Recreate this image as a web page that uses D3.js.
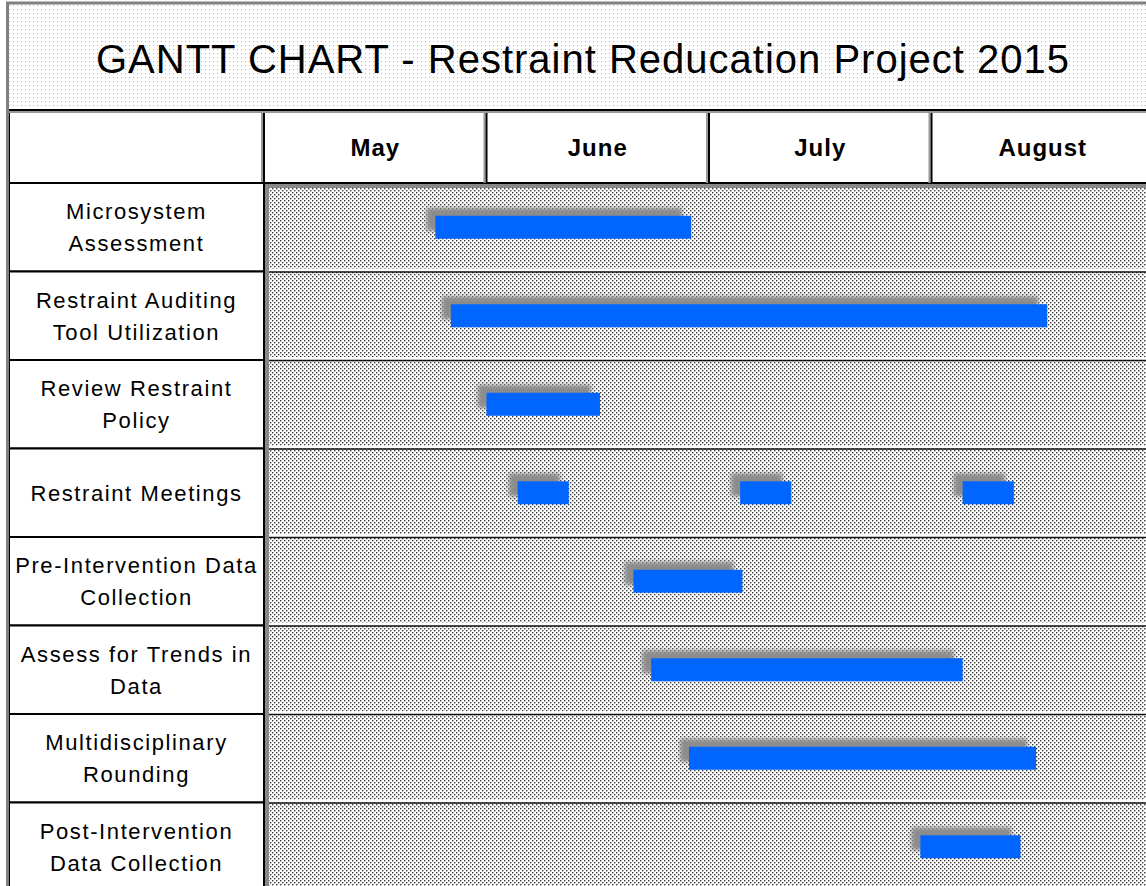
<!DOCTYPE html>
<html>
<head>
<meta charset="utf-8">
<script src="https://cdn.jsdelivr.net/npm/d3@7"></script>
<style>
  body { margin: 0; background: #fff; }
  svg { display: block; font-family: "Liberation Sans", Arial, sans-serif; }
</style>
</head>
<body>
<svg id="chart" width="1146" height="886"></svg>
<script>
const title = "GANTT CHART - Restraint Reducation Project 2015";
const months = ["May", "June", "July", "August"];
const taskLabels = [
  "Microsystem\nAssessment",
  "Restraint Auditing\nTool Utilization",
  "Review Restraint\nPolicy",
  "Restraint Meetings",
  "Pre-Intervention Data\nCollection",
  "Assess for Trends in\nData",
  "Multidisciplinary\nRounding",
  "Post-Intervention\nData Collection"
];
// bars in month units (0 = start of May), one task can have several bars
const barTask = [0, 1, 2, 3, 3, 3, 4, 5, 6, 7];
const barStart = [0.77, 0.84, 1.0, 1.14, 2.14, 3.14, 1.66, 1.74, 1.91, 2.95];
const barEnd = [1.92, 3.52, 1.51, 1.37, 2.37, 3.37, 2.15, 3.14, 3.47, 3.40];

const svg = d3.select("#chart");
const W = 1146, H = 886;
const labelX0 = 9, labelX1 = 264;
const headTop = 110, headBottom = 183;
const rowH = 88.5;

const x = d3.scaleLinear().domain([0, 4]).range([labelX1, 1154]);
const y = d3.scaleBand().domain(d3.range(taskLabels.length))
  .range([headBottom, headBottom + rowH * taskLabels.length]);

const defs = svg.append("defs");
const light = defs.append("pattern").attr("id", "dotsLight")
  .attr("width", 4).attr("height", 4).attr("patternUnits", "userSpaceOnUse");
light.append("rect").attr("width", 4).attr("height", 4).attr("fill", "#fff");
light.append("rect").attr("x", 1).attr("y", 1).attr("width", 1).attr("height", 1).attr("fill", "#b4b4b4");

const dark = defs.append("pattern").attr("id", "dotsDark")
  .attr("width", 4).attr("height", 4).attr("patternUnits", "userSpaceOnUse");
dark.append("rect").attr("width", 4).attr("height", 4).attr("fill", "#fff");
dark.append("rect").attr("x", 0).attr("y", 0).attr("width", 1.4).attr("height", 1.4).attr("fill", "#3a3a3a");
dark.append("rect").attr("x", 2).attr("y", 2).attr("width", 1.4).attr("height", 1.4).attr("fill", "#3a3a3a");

defs.append("filter").attr("id", "blur")
  .attr("x", "-20%").attr("y", "-80%").attr("width", "140%").attr("height", "260%")
  .append("feGaussianBlur").attr("stdDeviation", 2.2);

// title box
svg.append("rect").attr("x", labelX0).attr("y", 4).attr("width", W - labelX0).attr("height", headTop - 4)
  .attr("fill", "url(#dotsLight)");
svg.append("line").attr("x1", 6).attr("x2", W).attr("y1", 3).attr("y2", 3)
  .attr("stroke", "#808080").attr("stroke-width", 3);
svg.append("text").attr("x", 583).attr("y", 73).attr("text-anchor", "middle")
  .attr("font-size", 40).attr("letter-spacing", 1).attr("fill", "#000").text(title);

// data area background
svg.append("rect").attr("x", labelX1).attr("y", headBottom).attr("width", W - labelX1).attr("height", H - headBottom)
  .attr("fill", "url(#dotsDark)");
svg.append("rect").attr("x", labelX1 + 1).attr("y", headBottom + 1).attr("width", 4).attr("height", H - headBottom)
  .attr("fill", "#888");
svg.append("rect").attr("x", labelX1 + 1).attr("y", headBottom + 1).attr("width", W - labelX1).attr("height", 4)
  .attr("fill", "#888");

// row separators in data area
const rows = svg.append("g");
y.domain().slice(1).forEach(i => {
  rows.append("line").attr("x1", labelX1 + 5).attr("x2", W).attr("y1", y(i) - 1.5).attr("y2", y(i) - 1.5)
    .attr("stroke", "#fff").attr("stroke-width", 3);
  rows.append("line").attr("x1", labelX1 + 5).attr("x2", W).attr("y1", y(i) + 0.5).attr("y2", y(i) + 0.5)
    .attr("stroke", "#111").attr("stroke-width", 1.5);
});

// header row
const head = svg.append("g");
head.append("rect").attr("x", labelX0).attr("y", headTop).attr("width", labelX1 - labelX0).attr("height", headBottom - headTop)
  .attr("fill", "#fff").attr("stroke", "#000").attr("stroke-width", 2);
months.forEach((m, i) => {
  head.append("rect").attr("x", x(i)).attr("y", headTop).attr("width", x(i + 1) - x(i)).attr("height", headBottom - headTop)
    .attr("fill", "#fff").attr("stroke", "#000").attr("stroke-width", 2);
  head.append("rect").attr("x", x(i) - 3).attr("y", headTop + 1).attr("width", 2).attr("height", headBottom - headTop - 1)
    .attr("fill", "#999");
  head.append("text").attr("x", (x(i) + x(i + 1)) / 2).attr("y", 156).attr("text-anchor", "middle")
    .attr("font-size", 24).attr("font-weight", "bold").attr("letter-spacing", 1).text(m);
});
head.append("rect").attr("x", labelX0).attr("y", headTop + 1).attr("width", W).attr("height", 2).attr("fill", "#999");

// task label cells
const cells = svg.append("g");
taskLabels.forEach((t, i) => {
  cells.append("rect").attr("x", labelX0).attr("y", y(i)).attr("width", labelX1 - labelX0).attr("height", y.bandwidth())
    .attr("fill", "#fff").attr("stroke", "#000").attr("stroke-width", 2);
  const lines = t.split("\n");
  const cy = y(i) + y.bandwidth() / 2;
  const txt = cells.append("text").attr("text-anchor", "middle").attr("font-size", 22).attr("letter-spacing", 1.6);
  lines.forEach((l, j) => {
    txt.append("tspan").attr("x", (labelX0 + labelX1) / 2)
      .attr("y", cy + 8 + (j - (lines.length - 1) / 2) * 32).text(l);
  });
});
svg.append("rect").attr("x", 6).attr("y", 2).attr("width", 3).attr("height", H).attr("fill", "#808080");

// bars with soft shadow up and to the left
const barH = 23;
const bars = svg.append("g");
barTask.forEach((t, i) => {
  const bx = x(barStart[i]), bw = x(barEnd[i]) - x(barStart[i]);
  const by = y(t) + y.bandwidth() / 2 - barH / 2;
  bars.append("rect").attr("x", bx - 9).attr("y", by - 8).attr("width", bw).attr("height", barH)
    .attr("fill", "#8c8c8c").attr("opacity", 1).attr("filter", "url(#blur)");
  bars.append("rect").attr("x", bx).attr("y", by).attr("width", bw).attr("height", barH)
    .attr("fill", "#0066ff");
});
</script>
</body>
</html>
